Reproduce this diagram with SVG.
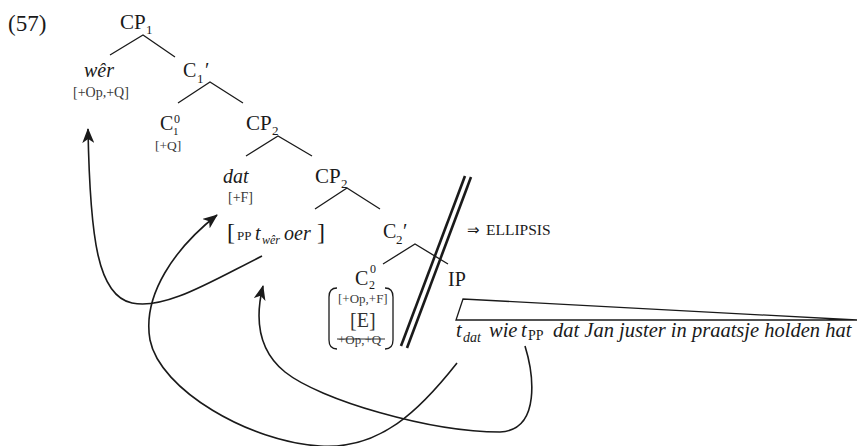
<svg xmlns="http://www.w3.org/2000/svg" width="858" height="446" viewBox="0 0 858 446">
<defs>
<style>
text{font-family:"Liberation Serif","Times New Roman",serif;fill:#1a1a1a}
.m{font-size:20px}
.i{font-style:italic}
.s{font-size:13px}
.f{font-size:14px;fill:#3a3a3a}
.t{fill:none;stroke:#1a1a1a;stroke-width:1.3}
.c{fill:none;stroke:#1a1a1a;stroke-width:1.6}
.d{fill:none;stroke:#1a1a1a;stroke-width:2.6}
</style>
<marker id="ah" markerUnits="userSpaceOnUse" markerWidth="16" markerHeight="12" viewBox="0 0 16 12" refX="14" refY="6" orient="auto">
<path d="M0,0 L15,6 L0,12 L4,6 Z" fill="#1a1a1a"/>
</marker>
</defs>
<rect width="858" height="446" fill="#fff"/>

<text x="8" y="31" style="font-size:23px">(57)</text>

<g id="cp1"><text class="m" x="120" y="29" style="font-size:21px">CP</text><text class="s" x="146" y="34">1</text></g>
<g id="wer"><text class="m i" x="84" y="77">wêr</text><text class="f" x="73" y="97">[+Op,+Q]</text></g>
<g id="c1bar"><text class="m" x="183" y="77">C</text><text class="s" x="197" y="83">1</text><text class="m" x="205" y="77">′</text></g>
<g id="c10"><text class="m" x="160" y="130">C</text><text x="174" y="123" style="font-size:12px">0</text><text x="173" y="135" style="font-size:11px">1</text><text class="f" x="155" y="150" style="font-size:13.5px">[+Q]</text></g>
<g id="cp2a"><text class="m" x="246" y="130" style="font-size:21px">CP</text><text class="s" x="272" y="135">2</text></g>
<g id="dat"><text class="m i" x="223" y="183">dat</text><text class="f" x="228" y="202">[+F]</text></g>
<g id="cp2b"><text class="m" x="315" y="183" style="font-size:21px">CP</text><text class="s" x="341" y="188">2</text></g>
<g id="pp"><text x="227" y="240" style="font-size:24px">[</text><text class="s" x="237" y="240">PP</text><text class="m i" x="255" y="240">t</text><text class="i" x="262" y="244" style="font-size:12px">wêr</text><text class="m i" x="284" y="240">oer</text><text x="317" y="240" style="font-size:24px">]</text></g>
<g id="c2bar"><text class="m" x="383" y="238">C</text><text class="s" x="396" y="244">2</text><text class="m" x="403" y="238">′</text></g>
<g id="c20">
<text class="m" x="355" y="285">C</text><text x="370" y="273" style="font-size:12px">0</text><text x="369" y="289" style="font-size:12px">2</text>
<path class="t" d="M337,288 Q329,288 329,297 L329,340 Q329,349 337,349"/>
<path class="t" d="M385,288 Q393,288 393,297 L393,340 Q393,349 385,349"/>
<text class="f" x="338" y="303" style="font-size:13px">[+Op,+F]</text>
<text x="350" y="327" style="font-size:20px;fill:#333">[E]</text>
<text class="f" x="338" y="344" style="font-size:13px">+Op,+Q</text>
<line x1="337" y1="339" x2="385" y2="339" stroke="#333" stroke-width="1"/>
</g>
<g id="ellipsis"><text x="467" y="235" style="font-size:15px">⇒</text><text x="486" y="235" style="font-size:15.5px">ELLIPSIS</text></g>
<g id="ip"><text class="m" x="448" y="286">IP</text>
<path class="t" d="M463,299 L456,320 L857,320 Z" stroke-linejoin="miter"/></g>
<g id="sentence">
<text class="m i" x="456" y="337" style="font-size:20.5px">t</text>
<text class="i" x="463" y="342" style="font-size:14px">dat</text>
<text class="m i" x="489" y="337" style="font-size:20.5px">wie</text>
<text class="m i" x="521" y="337" style="font-size:20.5px">t</text>
<text x="528" y="340" style="font-size:14px">PP</text>
<text class="m i" x="553" y="337" style="font-size:20.5px">dat Jan juster in praatsje holden hat</text>
</g>

<g id="connectors">
<path class="t" d="M110,55 L143,35 L175,57"/>
<path class="t" d="M178,103 L210,82 L243,103"/>
<path class="t" d="M246,156 L278,136 L312,156"/>
<path class="t" d="M315,209 L347,188 L380,209"/>
<path class="t" d="M383,264 L415,244 L448,264"/>
<path class="d" d="M465,176 L401,346"/>
<path class="d" d="M471,177 L407,348"/>
<path class="c" marker-end="url(#ah)" d="M262,256 C210,282 165,310 132,303 C98,296 90,240 88,129"/>
<path class="c" marker-end="url(#ah)" d="M457,363 C420,410 380,450 320,446 C250,442 160,390 150,340 C142,295 175,248 217,215"/>
<path class="c" marker-end="url(#ah)" d="M525,346 C533,372 542,430 500,432 C430,432 320,400 285,372 C258,350 255,318 263,286"/>
</g>
</svg>
